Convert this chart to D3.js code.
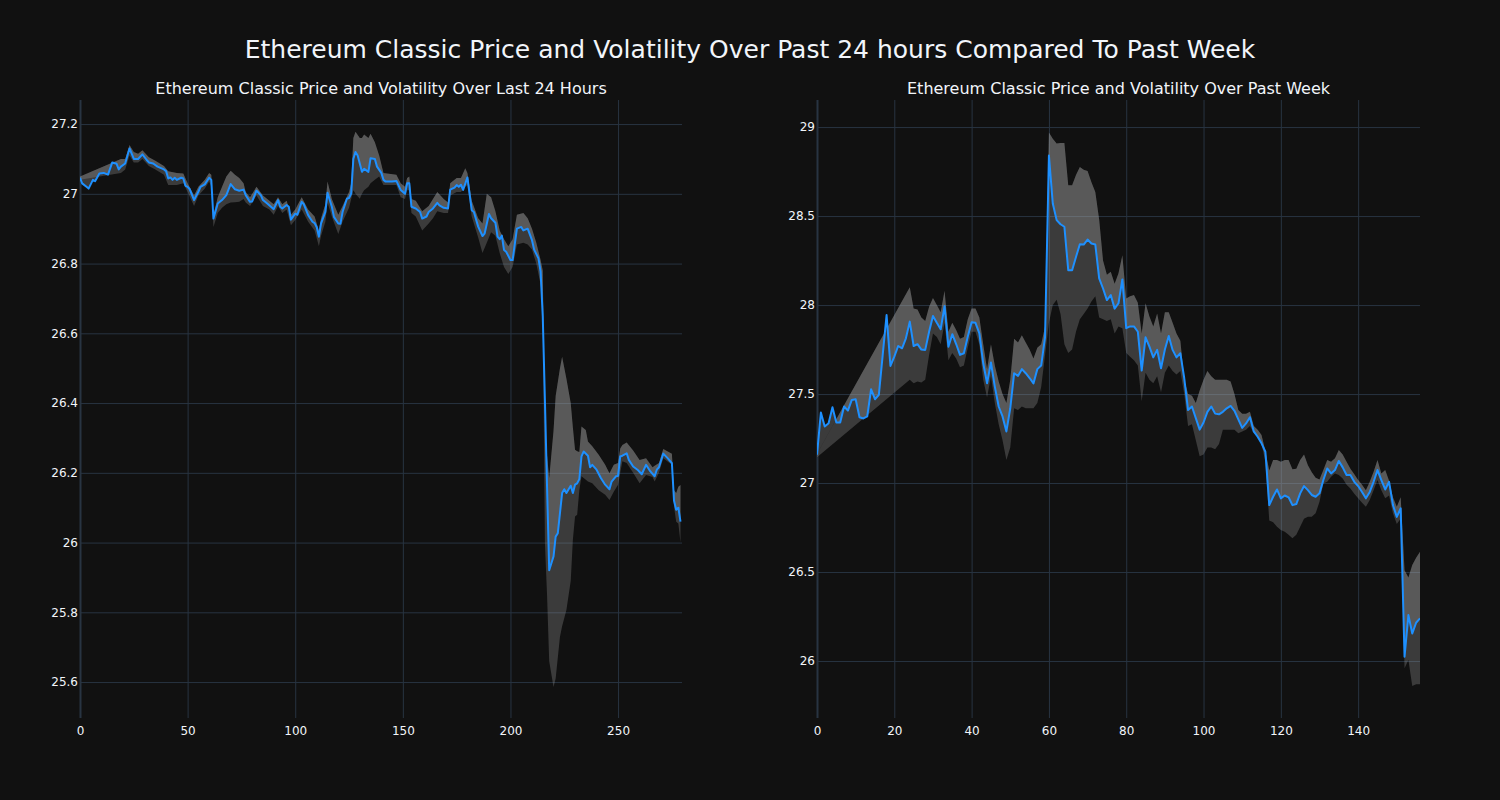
<!DOCTYPE html>
<html>
<head>
<meta charset="utf-8">
<script src="https://cdn.jsdelivr.net/npm/d3@7/dist/d3.min.js"></script>
<style>
  html, body { margin: 0; padding: 0; background: #111111; }
  svg { display: block; }
</style>
</head>
<body>
<svg id="chart" width="1500" height="800"></svg>
<script>
// ---------------- DATA ----------------
const mainTitle = "Ethereum Classic Price and Volatility Over Past 24 hours Compared To Past Week";
const dayTitle = "Ethereum Classic Price and Volatility Over Last 24 Hours";
const weekTitle = "Ethereum Classic Price and Volatility Over Past Week";

const dayXTicks = [0, 50, 100, 150, 200, 250];
const dayYTicks = [25.6, 25.8, 26, 26.2, 26.4, 26.6, 26.8, 27, 27.2];
const weekXTicks = [0, 20, 40, 60, 80, 100, 120, 140];
const weekYTicks = [26, 26.5, 27, 27.5, 28, 28.5, 29];

const dayX = [0,1,3,4,6,7,9,11,13,15,17,18,19,21,23,24,25,27,29,31,32,34,36,39,40,41,42,43,44,45,47,48,49,50,51,53,55,56,58,60,61,62,64,66,68,70,72,74,76,77,79,80,82,84,85,87,90,92,93,94,96,97,98,100,101,103,104,106,108,109,110,111,112,114,115,117,118,120,121,122,124,125,126,127,128,129,131,132,134,135,137,138,140,141,142,145,147,149,151,152,153,154,156,158,159,161,162,164,166,167,169,171,172,174,175,176,177,178,180,182,183,185,187,188,190,191,193,194,195,196,197,198,200,201,203,205,206,208,210,211,213,214,215,216,217,218,220,221,222,224,225,226,228,229,230,231,232,233,234,236,237,238,240,242,244,246,247,249,250,251,252,254,255,257,259,261,263,265,267,268,269,271,273,275,276,277,278,279];
const dayPrice = [27.046,27.030,27.020,27.015,27.040,27.036,27.058,27.060,27.055,27.090,27.086,27.070,27.078,27.087,27.130,27.115,27.100,27.100,27.113,27.097,27.090,27.087,27.078,27.070,27.065,27.044,27.047,27.040,27.046,27.040,27.046,27.044,27.023,27.020,27.013,26.982,27.006,27.020,27.027,27.046,27.040,26.929,26.972,26.982,26.996,27.028,27.013,27.009,27.012,26.996,26.977,26.978,27.009,26.996,26.982,26.972,26.956,26.982,26.963,26.958,26.968,26.963,26.926,26.943,26.940,26.977,26.970,26.939,26.920,26.916,26.904,26.877,26.915,26.948,27.003,26.963,26.934,26.915,26.914,26.948,26.986,26.988,27.001,27.100,27.120,27.110,27.063,27.072,27.063,27.102,27.100,27.078,27.060,27.040,27.035,27.035,27.037,27.011,27.000,27.030,27.030,26.963,26.958,26.948,26.929,26.935,26.948,26.958,26.974,26.967,26.960,26.958,27.012,27.018,27.025,27.020,27.026,27.011,27.047,26.953,26.948,26.906,26.879,26.886,26.942,26.930,26.917,26.877,26.870,26.880,26.839,26.834,26.810,26.810,26.900,26.905,26.895,26.900,26.867,26.840,26.815,26.777,26.650,26.410,26.160,25.921,25.960,26.017,26.027,26.142,26.153,26.142,26.163,26.142,26.166,26.170,26.182,26.247,26.261,26.249,26.216,26.223,26.209,26.185,26.166,26.153,26.175,26.190,26.191,26.247,26.249,26.256,26.237,26.218,26.209,26.196,26.223,26.204,26.190,26.209,26.216,26.255,26.242,26.228,26.120,26.094,26.100,26.060];

const dayBandX = [0,19,21,23,25,27,29,32,35,39,41,45,48,50,53,55,58,60,61,62,64,66,68,70,72,74,76,77,79,82,85,88,90,92,94,96,98,100,103,106,109,111,112,114,115,117,120,122,125,126,127,128,130,131,132,134,135,137,139,141,147,149,151,152,153,154,156,159,162,164,166,169,171,172,175,177,179,180,182,185,187,189,191,193,195,197,199,201,203,206,208,210,212,214,215,216,217,218,220,221,223,224,226,228,229,230,231,232,233,235,236,238,241,244,246,248,250,251,252,254,257,260,263,266,267,269,271,275,276,277,278,279];
const dayUpper = [27.050,27.100,27.100,27.140,27.120,27.115,27.125,27.105,27.095,27.080,27.065,27.060,27.058,27.030,26.995,27.020,27.040,27.060,27.055,26.940,26.990,27.020,27.050,27.066,27.055,27.045,27.030,27.005,26.990,27.020,26.995,26.980,26.970,26.990,26.970,26.980,26.940,26.955,26.990,26.955,26.935,26.895,26.930,26.970,27.035,26.985,26.940,26.965,27.005,27.030,27.160,27.178,27.160,27.160,27.170,27.160,27.172,27.148,27.110,27.060,27.055,27.030,27.020,27.045,27.050,26.985,26.980,26.950,26.965,26.985,27.005,26.985,26.975,27.030,27.045,27.045,27.073,27.060,26.980,26.930,26.915,27.000,26.990,26.950,26.895,26.870,26.850,26.870,26.940,26.945,26.930,26.900,26.860,26.810,26.780,26.310,26.250,26.185,26.320,26.420,26.500,26.533,26.470,26.400,26.330,26.266,26.262,26.260,26.333,26.323,26.290,26.276,26.252,26.223,26.199,26.223,26.228,26.270,26.280,26.287,26.264,26.237,26.242,26.216,26.220,26.228,26.268,26.255,26.150,26.142,26.160,26.165];
const dayLower = [27.040,27.060,27.070,27.110,27.090,27.090,27.100,27.080,27.070,27.055,27.025,27.025,27.030,27.005,26.965,26.995,27.015,27.035,27.020,26.905,26.945,26.960,26.970,26.975,26.976,26.977,26.985,26.975,26.965,26.995,26.965,26.955,26.940,26.965,26.945,26.955,26.910,26.925,26.955,26.920,26.895,26.850,26.880,26.920,26.975,26.935,26.885,26.920,26.960,26.985,27.010,27.000,26.986,27.000,27.010,27.020,27.030,27.040,27.050,27.025,27.025,26.990,26.985,27.010,27.010,26.945,26.935,26.895,26.915,26.930,26.950,26.945,26.945,26.995,27.005,27.005,27.020,27.025,26.935,26.875,26.830,26.860,26.890,26.880,26.830,26.790,26.770,26.790,26.855,26.860,26.855,26.840,26.800,26.740,26.700,26.000,25.850,25.660,25.586,25.610,25.730,25.760,25.807,25.890,26.008,26.075,26.080,26.150,26.190,26.180,26.175,26.170,26.150,26.137,26.122,26.146,26.166,26.200,26.233,26.228,26.200,26.170,26.194,26.188,26.175,26.200,26.242,26.223,26.103,26.060,26.055,26.000];

const weekPrice = [27.159,27.396,27.318,27.336,27.426,27.340,27.340,27.430,27.407,27.467,27.471,27.370,27.363,27.374,27.527,27.471,27.495,27.720,27.944,27.658,27.710,27.770,27.757,27.813,27.907,27.770,27.780,27.750,27.748,27.850,27.938,27.900,27.864,27.994,27.766,27.836,27.781,27.720,27.729,27.822,27.903,27.900,27.841,27.673,27.561,27.677,27.542,27.430,27.374,27.290,27.420,27.617,27.602,27.640,27.617,27.590,27.560,27.640,27.660,27.820,28.840,28.570,28.477,28.454,28.440,28.196,28.196,28.270,28.342,28.340,28.368,28.346,28.340,28.150,28.093,28.028,28.056,27.980,28.010,28.144,27.870,27.880,27.880,27.850,27.632,27.819,27.766,27.706,27.748,27.645,27.750,27.826,27.748,27.706,27.729,27.590,27.410,27.430,27.365,27.300,27.340,27.400,27.430,27.390,27.386,27.400,27.420,27.433,27.406,27.358,27.310,27.335,27.370,27.290,27.260,27.223,27.176,26.876,26.923,26.964,26.914,26.930,26.920,26.876,26.882,26.942,26.983,26.960,26.933,26.923,26.942,27.017,27.082,27.054,27.073,27.124,27.088,27.045,27.045,27.007,26.983,26.950,26.914,26.950,27.007,27.073,27.017,26.964,27.007,26.876,26.810,26.858,26.024,26.258,26.155,26.215,26.240];

const weekBandX = [0,24,25,26,27,28,29,30,31,32,33,34,35,36,37,38,39,40,41,42,43,44,45,46,47,48,49,50,51,52,53,54,55,56,57,58,59,60,61,62,63,64,65,66,67,68,69,70,71,72,73,74,75,76,77,78,79,80,81,82,83,84,85,86,87,88,89,90,91,92,93,94,95,96,97,98,99,100,101,102,103,104,105,106,107,108,109,110,111,112,113,114,115,116,117,118,119,120,121,122,123,124,125,126,127,128,129,130,131,132,133,134,135,136,137,138,139,140,141,142,143,144,145,146,147,148,149,150,151,152,153,154,155,156];
const weekUpper = [27.165,28.100,27.980,27.975,27.930,27.910,27.990,28.040,28.000,27.960,28.080,27.850,27.900,27.860,27.810,27.820,27.920,27.980,27.980,27.930,27.780,27.640,27.780,27.660,27.570,27.500,27.450,27.580,27.810,27.790,27.830,27.790,27.750,27.700,27.760,27.780,27.880,28.970,28.935,28.907,28.910,28.910,28.673,28.673,28.730,28.776,28.760,28.753,28.690,28.635,28.480,28.250,28.170,28.187,28.120,28.178,28.280,28.037,28.050,28.056,28.013,27.840,28.010,27.935,27.880,27.953,27.840,27.960,27.960,27.900,27.840,27.800,27.580,27.500,27.490,27.450,27.520,27.580,27.630,27.600,27.580,27.580,27.580,27.580,27.570,27.500,27.410,27.390,27.390,27.400,27.320,27.300,27.270,27.180,27.070,27.130,27.130,27.120,27.130,27.130,27.077,27.080,27.130,27.160,27.100,27.060,27.030,27.020,27.073,27.130,27.120,27.140,27.185,27.160,27.120,27.080,27.050,27.017,26.990,26.960,27.007,27.064,27.130,27.054,27.073,27.013,26.920,26.867,26.920,26.510,26.470,26.540,26.580,26.614];
const weekLower = [27.145,27.580,27.560,27.570,27.565,27.580,27.720,27.840,27.820,27.780,27.900,27.690,27.730,27.700,27.650,27.660,27.760,27.850,27.850,27.780,27.580,27.480,27.600,27.450,27.330,27.240,27.130,27.200,27.420,27.410,27.430,27.420,27.420,27.420,27.450,27.540,27.720,27.900,28.000,28.030,27.950,27.780,27.730,27.750,27.850,27.920,27.950,27.980,28.020,28.050,27.930,27.920,27.910,27.920,27.840,27.880,27.870,27.730,27.710,27.690,27.660,27.460,27.620,27.580,27.560,27.600,27.510,27.620,27.660,27.630,27.610,27.630,27.500,27.320,27.330,27.240,27.150,27.160,27.200,27.200,27.190,27.220,27.300,27.300,27.300,27.300,27.280,27.290,27.300,27.320,27.280,27.260,27.220,27.120,26.790,26.780,26.755,26.736,26.727,26.710,26.690,26.710,26.755,26.800,26.810,26.810,26.830,26.895,26.998,27.007,27.035,27.054,27.045,27.026,26.990,26.970,26.940,26.914,26.890,26.867,26.905,26.960,27.017,26.960,26.914,26.930,26.830,26.770,26.800,25.960,26.006,25.860,25.870,25.870];

// ---------------- DRAWING ----------------
const svg = d3.select("#chart");
const FONT = "'DejaVu Sans', sans-serif";
const TEXT = "#f2f5fa";
const GRID = "#283442";
const FILL = "rgba(169,169,169,0.28)";
const LINE = "#1e90ff";

svg.append("rect").attr("width", 1500).attr("height", 800).attr("fill", "#111111");

svg.append("text")
  .attr("x", 750).attr("y", 58)
  .attr("text-anchor", "middle")
  .attr("font-family", FONT).attr("font-size", 25)
  .attr("fill", TEXT)
  .text(mainTitle);

function drawPanel(cfg) {
  const x = d3.scaleLinear().domain(cfg.xDomain).range([cfg.left, cfg.right]);
  const y = d3.scaleLinear().domain(cfg.yDomain).range([cfg.bottom, cfg.top]);
  const g = svg.append("g");

  // grid
  const yAxis = d3.axisLeft(y).tickValues(cfg.yTicks)
    .tickSize(-(cfg.right - cfg.left)).tickPadding(4)
    .tickFormat(d => d3.format("~g")(d));
  const gy = g.append("g").attr("transform", `translate(${cfg.left},0)`).call(yAxis);
  gy.select(".domain").remove();
  gy.selectAll(".tick line").attr("stroke", GRID).attr("stroke-width", 1);
  gy.selectAll(".tick text").attr("fill", TEXT).attr("font-family", FONT).attr("font-size", 12)
    .attr("dx", 2);

  const xAxis = d3.axisBottom(x).tickValues(cfg.xTicks)
    .tickSize(-(cfg.bottom - cfg.top)).tickPadding(8)
    .tickFormat(d3.format("d"));
  const gx = g.append("g").attr("transform", `translate(0,${cfg.bottom})`).call(xAxis);
  gx.select(".domain").remove();
  gx.selectAll(".tick line").attr("stroke", GRID)
    .attr("stroke-width", d => d === 0 ? 2 : 1);
  gx.selectAll(".tick text").attr("fill", TEXT).attr("font-family", FONT).attr("font-size", 12);

  // band rows
  const band = cfg.bandX.map((bx, k) => ({ x: bx, up: cfg.upper[k], lo: cfg.lower[k] }));
  const price = cfg.priceX.map((px, k) => ({ x: px, v: cfg.price[k] }));

  const clipId = "clip" + cfg.id;
  svg.append("clipPath").attr("id", clipId).append("rect")
    .attr("x", cfg.left).attr("y", cfg.top)
    .attr("width", cfg.right - cfg.left).attr("height", cfg.bottom - cfg.top);
  const plot = g.append("g").attr("clip-path", `url(#${clipId})`);

  // fill between lower and upper
  const area = d3.area().x(d => x(d.x)).y0(d => y(d.lo)).y1(d => y(d.up));
  plot.append("path").datum(band).attr("d", area).attr("fill", FILL);

  // fill between upper and price
  const poly = band.map(d => [x(d.x), y(d.up)])
    .concat(price.slice().reverse().map(d => [x(d.x), y(d.v)]));
  plot.append("path").attr("d", d3.line()(poly) + "Z").attr("fill", FILL);

  // price line
  const line = d3.line().x(d => x(d.x)).y(d => y(d.v));
  plot.append("path").datum(price).attr("d", line)
    .attr("fill", "none").attr("stroke", LINE).attr("stroke-width", 2)
    .attr("stroke-linejoin", "round");

  // subplot title
  svg.append("text")
    .attr("x", (cfg.left + cfg.right) / 2).attr("y", 94)
    .attr("text-anchor", "middle")
    .attr("font-family", FONT).attr("font-size", 16)
    .attr("fill", TEXT)
    .text(cfg.title);
}

drawPanel({
  id: "day", title: dayTitle,
  left: 80, right: 682, top: 100, bottom: 718,
  xDomain: [0, 279.7], yDomain: [25.497, 27.269],
  xTicks: dayXTicks, yTicks: dayYTicks,
  priceX: dayX, price: dayPrice,
  bandX: dayBandX, upper: dayUpper, lower: dayLower
});

drawPanel({
  id: "week", title: weekTitle,
  left: 817, right: 1420, top: 100, bottom: 718,
  xDomain: [0, 156], yDomain: [25.68, 29.152],
  xTicks: weekXTicks, yTicks: weekYTicks,
  priceX: d3.range(weekPrice.length), price: weekPrice,
  bandX: weekBandX, upper: weekUpper, lower: weekLower
});
</script>
</body>
</html>
